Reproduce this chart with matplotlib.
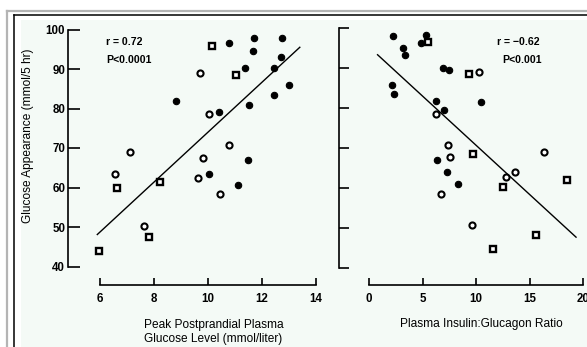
import matplotlib
matplotlib.use("Agg")
import matplotlib.pyplot as plt
import matplotlib.transforms as mtransforms
from matplotlib.patches import Rectangle
from matplotlib.lines import Line2D

plt.rcParams['font.family'] = ['Liberation Sans', 'DejaVu Sans']

# ---------------- data ----------------
# Left panel: Peak postprandial plasma glucose (mmol/liter) vs glucose appearance
left_sq_x = [5.95, 6.62, 7.81, 8.21, 10.14, 11.02]
left_sq_y = [44.0, 60.0, 47.5, 61.4, 95.9, 88.4]
left_open_x = [6.56, 7.12, 7.63, 9.71, 9.81, 9.62, 10.05, 10.44, 10.77]
left_open_y = [63.5, 68.9, 50.3, 88.9, 67.4, 62.5, 78.5, 58.3, 70.8]
left_fill_x = [8.80, 10.41, 10.04, 10.79, 11.10, 11.38, 11.53, 11.48, 11.65,
               11.71, 12.43, 12.44, 12.69, 12.75, 13.00]
left_fill_y = [81.8, 79.1, 63.4, 96.7, 60.6, 90.3, 80.8, 66.9, 94.6,
               97.8, 90.3, 83.4, 93.1, 97.8, 85.9]
left_fit_x = [5.9, 13.4]
left_fit_y = [48.1, 95.5]

# Right panel: plasma insulin:glucagon ratio vs glucose appearance
right_sq_x = [5.51, 9.30, 9.72, 12.50, 18.55, 15.61, 11.56]
right_sq_y = [96.4, 88.5, 68.5, 60.2, 61.9, 48.2, 44.6]
right_open_x = [10.25, 6.26, 7.36, 7.54, 16.37, 13.60, 12.79, 6.76, 9.64]
right_open_y = [88.9, 78.4, 70.7, 67.6, 69.0, 63.9, 62.7, 58.3, 50.7]
right_fill_x = [2.24, 3.15, 3.41, 2.15, 2.36, 5.30, 4.84, 6.89, 7.48, 6.24,
                10.47, 7.04, 6.36, 7.31, 8.35]
right_fill_y = [98.1, 95.1, 93.3, 85.7, 83.4, 98.2, 96.2, 90.1, 89.5, 81.8,
                81.5, 79.4, 66.9, 63.8, 60.9]
right_fit_x = [0.8, 19.35]
right_fit_y = [93.3, 47.6]

y_ticks = [40, 50, 60, 70, 80, 90, 100]
left_x_ticks = [6, 8, 10, 12, 14]
right_x_ticks = [0, 5, 10, 15, 20]

# ---------------- figure ----------------
W, H = 587, 347
fig = plt.figure(figsize=(W / 100, H / 100), dpi=100)
fig.patch.set_facecolor('white')

# pixel (top-left origin) -> figure transform
pix = mtransforms.Affine2D().scale(1 / W, -1 / H).translate(0, 1) + fig.transFigure

# background overlay axes for frame
bg = fig.add_axes([0, 0, 1, 1], zorder=0)
bg.set_xlim(0, W)
bg.set_ylim(H, 0)
bg.axis('off')
bg.add_patch(Rectangle((21, 20), W - 21, H - 20, facecolor='#f4faf6', edgecolor='none'))
bg.add_line(Line2D([7, W], [11, 11], color='#b4b4b4', lw=1.6))
bg.add_line(Line2D([7, 7], [11, H], color='#b4b4b4', lw=1.6))
bg.add_line(Line2D([14, W], [14.5, 14.5], color='black', lw=1.1))
bg.add_line(Line2D([14, 14], [14.5, H], color='black', lw=1.1))


def make_axes(x0_px, x1_px, ytop_px, ybot_px, xlim, ylim):
    left = x0_px / W
    width = (x1_px - x0_px) / W
    bottom = (H - ybot_px) / H
    height = (ybot_px - ytop_px) / H
    ax = fig.add_axes([left, bottom, width, height], zorder=2)
    ax.set_xlim(*xlim)
    ax.set_ylim(*ylim)
    ax.patch.set_alpha(0)
    return ax


def style_axes(ax, xticks, left_out_px, bottom_out_px, ytick_len_px, show_ylabels):
    for s in ['top', 'right']:
        ax.spines[s].set_visible(False)
    ax.spines['left'].set_position(('outward', left_out_px * 0.72))
    ax.spines['bottom'].set_position(('outward', bottom_out_px * 0.72))
    ax.spines['left'].set_bounds(40, 100)
    ax.spines['bottom'].set_bounds(xticks[0], xticks[-1])
    for s in ['left', 'bottom']:
        ax.spines[s].set_linewidth(1.2)
    ax.set_xticks(xticks)
    ax.set_yticks(y_ticks)
    ax.tick_params(axis='y', direction='in', length=ytick_len_px * 0.72, width=1.2,
                   pad=2, labelsize=8.3, labelleft=show_ylabels)
    ax.tick_params(axis='x', direction='in', length=5, width=1.2, pad=6, labelsize=8.3)
    for lab in ax.get_xticklabels() + ax.get_yticklabels():
        lab.set_fontweight('bold')


def draw_points(ax, sx, sy, ox, oy, fx, fy, lx, ly):
    ax.plot(lx, ly, color='black', lw=1.0, clip_on=False, zorder=2)
    ax.plot(fx, fy, 'o', ms=4.6, mfc='black', mec='black', mew=0.8, ls='none',
            clip_on=False, zorder=3)
    ax.plot(ox, oy, 'o', ms=4.4, mfc='white', mec='black', mew=1.5, ls='none',
            clip_on=False, zorder=3)
    ax.plot(sx, sy, 's', ms=4.6, mfc='white', mec='black', mew=1.7, ls='none',
            clip_on=False, zorder=3)


# Left panel
axL = make_axes(100, 316, 29.5, 266.5, (6, 14), (40, 100))
style_axes(axL, left_x_ticks, 32, 18.5, 12, True)
draw_points(axL, left_sq_x, left_sq_y, left_open_x, left_open_y,
            left_fill_x, left_fill_y, left_fit_x, left_fit_y)
axL.set_ylabel('Glucose Appearance (mmol/5 hr)', fontsize=8.6)
axL.yaxis.set_label_coords(28, 136, transform=pix)
axL.yaxis.label.set_va('center')
axL.set_xlabel('Peak Postprandial Plasma\nGlucose Level (mmol/liter)', fontsize=8.6,
               linespacing=1.3)
axL.xaxis.set_label_coords(213.5, 332, transform=pix)
axL.xaxis.label.set_va('center')
fig.text(106 / W, 1 - 42 / H, 'r = 0.72', fontsize=7.6, fontweight='bold', va='center', ha='left')
fig.text(106 / W, 1 - 60 / H, 'P<0.0001', fontsize=7.6, fontweight='bold', va='center', ha='left')

# Right panel
axR = make_axes(369, 583, 28, 267.5, (0, 20), (40, 100))
style_axes(axR, right_x_ticks, 30, 17.5, 10, False)
draw_points(axR, right_sq_x, right_sq_y, right_open_x, right_open_y,
            right_fill_x, right_fill_y, right_fit_x, right_fit_y)
axR.set_xlabel('Plasma Insulin:Glucagon Ratio', fontsize=8.6)
axR.xaxis.set_label_coords(481, 324, transform=pix)
axR.xaxis.label.set_va('center')
fig.text(497 / W, 1 - 42 / H, 'r = \u22120.62', fontsize=7.6, fontweight='bold', va='center', ha='left')
fig.text(502 / W, 1 - 60 / H, 'P<0.001', fontsize=7.6, fontweight='bold', va='center', ha='left')

fig.savefig('out.png', dpi=100, facecolor='white')
